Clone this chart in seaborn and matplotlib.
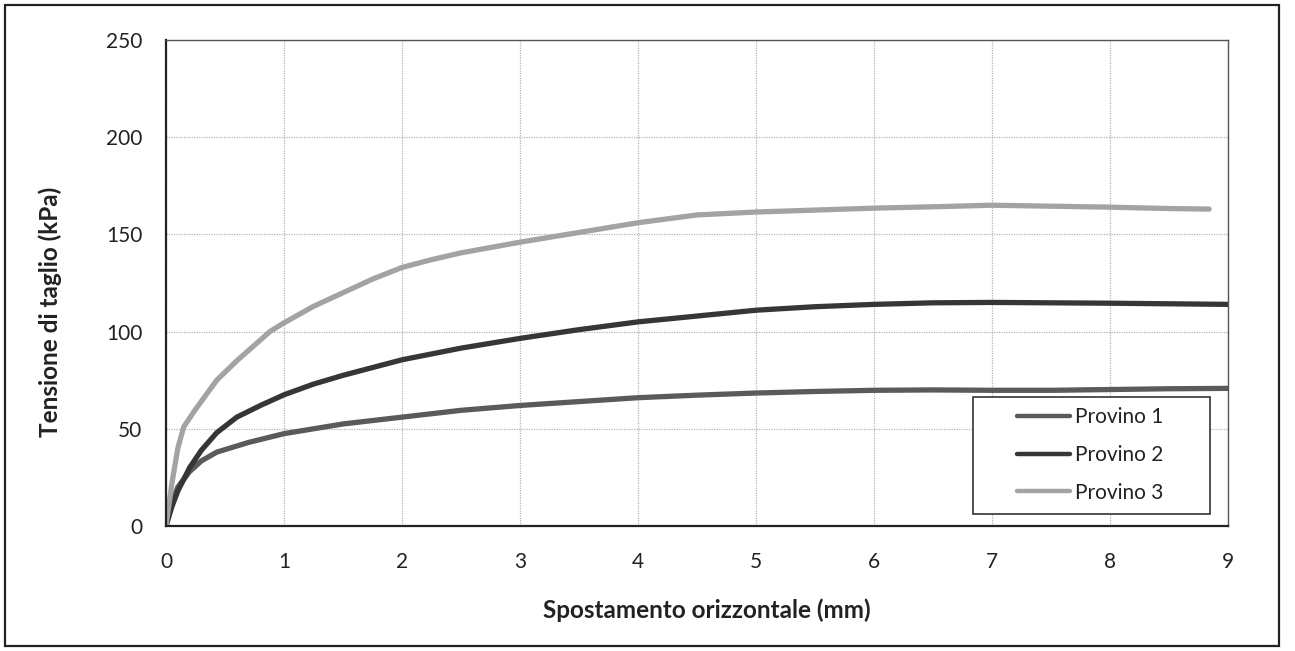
import numpy as np
import pandas as pd
import seaborn as sns
import matplotlib.pyplot as plt
from matplotlib.patches import Rectangle

# valori
x_p1 = [0, 0.05, 0.1, 0.2, 0.3, 0.43, 0.7, 1.0, 1.5, 2.0, 2.5, 3.0, 3.5, 4.0,
        4.5, 5.0, 5.5, 6.0, 6.5, 7.0, 7.5, 8.0, 8.5, 9.0]
y_p1 = [0, 12, 20, 28, 33.5, 38, 43, 47.5, 52.5, 56, 59.5, 62, 64, 66,
        67.3, 68.4, 69.2, 69.8, 70, 69.8, 69.8, 70.2, 70.6, 70.8]

x_p2 = [0, 0.05, 0.1, 0.2, 0.3, 0.43, 0.6, 0.8, 1.0, 1.25, 1.5, 2.0, 2.5, 3.0,
        3.5, 4.0, 4.5, 5.0, 5.5, 6.0, 6.5, 7.0, 7.5, 8.0, 8.5, 9.0]
y_p2 = [0, 10, 18, 30, 39, 48, 56, 62, 67.5, 73, 77.5, 85.5, 91.5, 96.5,
        101, 105, 108, 111, 112.8, 114, 114.8, 115, 114.8, 114.6, 114.3, 114]

x_p3 = [0, 0.05, 0.1, 0.15, 0.25, 0.43, 0.6, 0.75, 0.88, 1.0, 1.25, 1.5, 1.75, 2.0,
        2.25, 2.5, 3.0, 3.5, 4.0, 4.5, 5.0, 5.5, 6.0, 6.5, 7.0, 7.5, 8.0, 8.5, 8.84]
y_p3 = [0, 22, 40, 51, 60, 75, 85, 93, 100, 104.5, 113, 120, 127, 133,
        137, 140.5, 146, 151, 156, 160, 161.5, 162.5, 163.5, 164.2, 165, 164.5, 164, 163.3, 163]

labels = ["Provino 1", "Provino 2", "Provino 3"]
colori = ["#5a5a5a", "#363636", "#a3a3a3"]

df = pd.concat([
    pd.DataFrame({"x": x_p1, "y": y_p1, "serie": labels[0]}),
    pd.DataFrame({"x": x_p2, "y": y_p2, "serie": labels[1]}),
    pd.DataFrame({"x": x_p3, "y": y_p3, "serie": labels[2]}),
])

sns.set_style("white")
plt.rcParams['font.family'] = ['Lato', 'DejaVu Sans']

fig = plt.figure(figsize=(12.95, 6.51), dpi=100)
ax = fig.add_axes([0.1282, 0.192, 0.8201, 0.7466])

sns.lineplot(data=df, x="x", y="y", hue="serie", palette=dict(zip(labels, colori)),
             linewidth=3.8, sort=False, estimator=None, ax=ax, legend=True)

ax.set_xlim(0, 9)
ax.set_ylim(0, 250)
ax.set_xticks(range(0, 10))
ax.set_yticks(range(0, 251, 50))
ax.grid(True, color="#b5b5b5", linestyle=(0, (1, 1)), linewidth=0.9)
ax.tick_params(axis="both", direction="out", length=6, width=1.2, color="#222222",
               labelsize=15, labelcolor="#222222")
ax.tick_params(axis="y", pad=11)
ax.tick_params(axis="x", pad=13)

for s in ["top", "right"]:
    ax.spines[s].set_color("#555555")
    ax.spines[s].set_linewidth(1.0)
for s in ["left", "bottom"]:
    ax.spines[s].set_color("#222222")
    ax.spines[s].set_linewidth(1.6)

ax.set_xlabel("Spostamento orizzontale (mm)", fontsize=17.5, fontweight="bold",
              color="#222222", va="center")
ax.set_ylabel("Tensione di taglio (kPa)", fontsize=17.5, fontweight="bold",
              color="#222222", va="center")
ax.xaxis.set_label_coords(0.509, -0.173)
ax.yaxis.set_label_coords(-0.109, 0.44)

# legenda con riquadro
leg = ax.legend(loc="center left", bbox_to_anchor=(0.801, 0.146), frameon=False,
                fontsize=15, handlelength=2.55, handletextpad=0.25, labelspacing=0.85,
                borderaxespad=0, borderpad=0)
for t in leg.get_texts():
    t.set_color("#222222")
for h in leg.get_lines():
    h.set_linewidth(3.2)
ax.add_patch(Rectangle((0.76, 0.025), 0.223, 0.24, transform=ax.transAxes,
                       fill=True, facecolor="white", edgecolor="#333333",
                       linewidth=1.2, zorder=4))
leg.set_zorder(5)

# cornice esterna
fig.patches.append(Rectangle((0.004, 0.008), 0.984, 0.985, transform=fig.transFigure,
                             fill=False, edgecolor="#222222", linewidth=1.6))

fig.savefig("out.png", dpi=100)
